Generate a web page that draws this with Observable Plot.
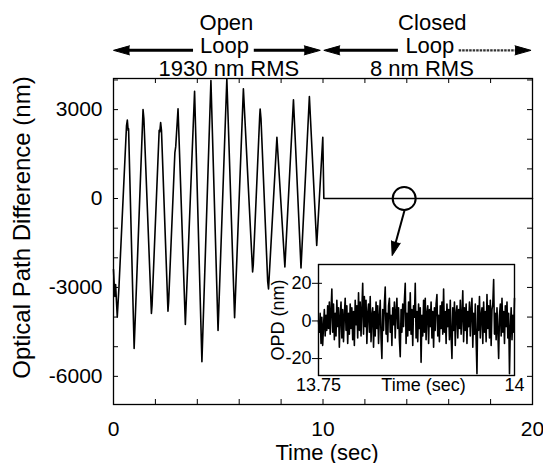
<!DOCTYPE html>
<html>
<head>
<meta charset="utf-8">
<script src="https://cdn.jsdelivr.net/npm/d3@7"></script>
<script src="https://cdn.jsdelivr.net/npm/@observablehq/plot@0.6"></script>
<style>
  body { margin: 0; background: #fff; }
  #wrap { position: relative; width: 543px; height: 463px; }
  #wrap svg { position: absolute; left: 0; top: 0; }
</style>
</head>
<body>
<div id="wrap"></div>
<script>
// ---------- data ----------
const openTime = [0.00, 0.06, 0.10, 0.18, 0.26, 0.62, 0.66, 0.70, 0.72, 0.985,
  1.41, 1.45, 1.81, 1.84, 2.18, 2.21, 2.25, 2.29, 2.60, 2.63,
  2.93, 2.97, 3.08, 3.43, 3.87, 4.22, 4.65, 4.99, 5.41, 5.78,
  6.20, 6.64, 6.67, 6.98, 7.00, 7.04, 7.36, 7.40, 7.80, 8.18,
  8.59, 8.95, 9.35, 9.70, 9.99];
const openOPD = [-2400, -3300, -2900, -4000, -3000, 2450, 2650, 2300, 2350, -5060,
  3000, 2700, -3880, -3600, 2300, 2250, 2560, 2300, -3800, -3500,
  1550, 1750, 3030, -4250, 3620, -5510, 3980, -4450, 4040, -4020,
  3700, -2480, -2250, 2800, 3020, 2700, -2800, -3050, 2070, -2310,
  3330, -2340, 3440, -1580, 2070];
const closedTime = [10.04, 20];
const closedOPD = [0, 0];

// inset: closed-loop OPD (nm), 13.75 s to 14 s
const insetStart = 13.75, insetEnd = 14;
const insetOPD = [
  0, -6, 4, -12, 2, -13, -3, 6, -8, 3,
  -5, 8, -4, 10, -7, 5, 17, -6, 9, -10,
  4, -8, 11, -3, 7, -14, 2, 10, -9, 6,
  -11, 3, 12, -5, 8, -12, 4, -7, 9, -4,
  7, -10, 5, -13, 11, -2, 8, -9, 15, -5,
  10, -8, 6, 20, -7, 13, -3, 11, -12, 4,
  9, -6, 13, -11, 3, 7, -14, 5, -8, 10,
  -4, 8, -12, 2, 11, -9, -20, 6, -5, 9,
  18, -7, 4, -11, 8, 12, -6, 3, -13, 7,
  -2, 10, -9, 5, 12, -4, 7, -10, -19, 6,
  -6, 9, -3, 11, 20, -12, 4, -8, 10, -5,
  15, -7, 6, -13, 8, 2, 20, -9, 5, -11,
  9, -4, 7, -22, 3, -8, 11, -6, 12, -10,
  4, 8, -12, 6, -3, 10, -9, 5, -14, 7,
  -5, 9, 14, -8, 3, -11, 8, -4, 10, -7,
  17, -6, 5, -12, 9, -3, 6, -10, 11, -8,
  -20, 7, -5, 10, -13, 4, 8, -9, 6, -4,
  11, -7, 3, 16, -11, 7, -5, 9, -12, 5,
  -3, 10, -8, 6, 12, -14, 4, -7, 9, -10,
  -28, 8, -5, 13, -9, 3, 7, -12, 10, -6,
  5, -11, 14, -4, 8, -9, 11, -13, 6, 9,
  22, -7, 4, -10, 7, -5, -20, 3, 9, -8,
  12, -6, 5, -12, 8, -3, 10, -9, 4, -28,
  -4, 7, -10, 3, -6, 12];

// ticks
const xTickLabels = [0, 10, 20];
const xMinorTicks = [0, 2, 4, 6, 8, 10, 12, 14, 16, 18, 20];
const yTickLabels = [-6000, -3000, 0, 3000];
const yMinorTicks = [-6000, -5000, -4000, -3000, -2000, -1000, 0, 1000, 2000, 3000, 4000];
const insetYTickLabels = [-20, 0, 20];
const insetXTickLabels = [13.75, 14];

// annotations
const annoLines = [
  {text: "Open", x: 5.39, row: 0},
  {text: "Loop", x: 5.30, row: 1},
  {text: "1930 nm RMS", x: 5.51, row: 2},
  {text: "Closed", x: 15.22, row: 0},
  {text: "Loop", x: 15.10, row: 1},
  {text: "8 nm RMS", x: 14.72, row: 2}
];
const annoY = 5000;
const arrowSegs = [
  {tip: 0, tail: 3.82, dir: "left", faint: false},
  {tip: 9.87, tail: 6.72, dir: "right", faint: false},
  {tip: 10.04, tail: 13.6, dir: "left", faint: false},
  {tip: 19.93, tail: 16.5, dir: "right", faint: true}
];
const zoomCircle = [{t: 13.875, opd: 0}];
const zoomArrow = [{t1: 13.89, v1: -405, t2: 13.30, v2: -1923}];

// ---------- layout ----------
const W = 543, H = 463;
const M = {left: 113, right: 11, top: 78, bottom: 59};
const frameW = W - M.left - M.right;
const frameH = H - M.top - M.bottom;
const xDomain = [0, 20], yDomain = [-6950, 4050];
const font = "'Liberation Sans', Arial, Helvetica, sans-serif";

const px = t => M.left + (t - xDomain[0]) / (xDomain[1] - xDomain[0]) * frameW;
const py = v => M.top + (yDomain[1] - v) / (yDomain[1] - yDomain[0]) * frameH;
const za = zoomArrow[0];
const zoomRotate = Math.atan2(px(za.t2) - px(za.t1), -(py(za.v2) - py(za.v1))) * 180 / Math.PI;

const trace = openTime.map((t, i) => ({t, v: openOPD[i]}))
  .concat(closedTime.map((t, i) => ({t, v: closedOPD[i]})));

const rowDy = [-49, -26, -3];
const leftSegs = arrowSegs.filter(d => d.dir === "left");
const rightSegs = arrowSegs.filter(d => d.dir === "right");

const main = Plot.plot({
  width: W, height: H,
  marginLeft: M.left, marginRight: M.right, marginTop: M.top, marginBottom: M.bottom,
  style: {fontFamily: font, fontSize: "21px", background: "white", color: "black", overflow: "visible"},
  x: {domain: xDomain},
  y: {domain: yDomain},
  marks: [
    Plot.frame({stroke: "black", strokeWidth: 1.3}),
    Plot.tickX(xMinorTicks, {x: d => d, insetTop: frameH - 5, stroke: "black"}),
    Plot.tickX(xMinorTicks, {x: d => d, insetBottom: frameH - 5, stroke: "black"}),
    Plot.tickY(yMinorTicks, {y: d => d, insetRight: frameW - 5, stroke: "black"}),
    Plot.tickY(yMinorTicks, {y: d => d, insetLeft: frameW - 5, stroke: "black"}),
    Plot.line(trace, {x: "t", y: "v", stroke: "black", strokeWidth: 1.6}),
    Plot.dot(zoomCircle, {x: "t", y: "opd", r: 11.5, stroke: "black", strokeWidth: 2, fill: "none"}),
    Plot.link(zoomArrow, {x1: "t1", y1: "v1", x2: d => d.t1 + 0.8 * (d.t2 - d.t1), y2: d => d.v1 + 0.8 * (d.v2 - d.v1), stroke: "black", strokeWidth: 2}),
    Plot.vector(zoomArrow, {x: "t2", y: "v2", anchor: "end", shape: "spike", length: 14, r: 4.5, rotate: zoomRotate, fill: "black", stroke: "black", strokeWidth: 1}),
    // open / closed arrows
    Plot.ruleY(leftSegs, {y: () => annoY, x1: "tip", x2: "tail", insetLeft: 8, stroke: "black", strokeWidth: 3}),
    Plot.ruleY(rightSegs.filter(d => !d.faint), {y: () => annoY, x1: "tail", x2: "tip", insetRight: 8, stroke: "black", strokeWidth: 3}),
    Plot.ruleY(rightSegs.filter(d => d.faint), {y: () => annoY, x1: "tail", x2: "tip", insetRight: 8, stroke: "#333", strokeWidth: 2.2, strokeDasharray: "2.5 1"}),
    Plot.vector(leftSegs, {x: "tip", y: () => annoY, anchor: "end", shape: "spike", length: 16, r: 4.5, rotate: -90, fill: "black", stroke: "black", strokeWidth: 1}),
    Plot.vector(rightSegs, {x: "tip", y: () => annoY, anchor: "end", shape: "spike", length: 16, r: 4.5, rotate: 90, fill: "black", stroke: "black", strokeWidth: 1}),
    ...[0, 1, 2].map(r => Plot.text(annoLines.filter(d => d.row === r), {
      x: "x", text: "text", frameAnchor: "top", textAnchor: "middle", lineAnchor: "bottom", dy: rowDy[r], fontSize: 22, fill: "black"
    })),
    // axes
    Plot.axisX({ticks: xTickLabels, tickSize: 0, tickPadding: 17, tickFormat: d => String(d), fontSize: 21, label: null}),
    Plot.axisY({ticks: yTickLabels, tickSize: 0, tickPadding: 11, tickFormat: d => String(d), fontSize: 21, label: null}),
    Plot.text(["Time (sec)"], {text: d => d, frameAnchor: "bottom", textAnchor: "middle", lineAnchor: "bottom", dy: 55, dx: 4, fontSize: 22, fill: "black"}),
    Plot.text(["Optical Path Difference (nm)"], {text: d => d, frameAnchor: "left", textAnchor: "middle", lineAnchor: "middle", rotate: -90, dx: -91, dy: -14, fontSize: 24, fill: "black"})
  ]
});

// ---------- inset ----------
const IM = {left: 318, right: 29, top: 264, bottom: 88};
const insetW = W - IM.left - IM.right;
const insetData = insetOPD.map((v, i) => ({
  t: insetStart + i * (insetEnd - insetStart) / (insetOPD.length - 1), v
}));

const inset = Plot.plot({
  width: W, height: H,
  marginLeft: IM.left, marginRight: IM.right, marginTop: IM.top, marginBottom: IM.bottom,
  style: {fontFamily: font, fontSize: "18px", background: "transparent", color: "black", overflow: "visible"},
  x: {domain: [insetStart, insetEnd]},
  y: {domain: [-29, 30]},
  marks: [
    Plot.frame({fill: "white", stroke: "black", strokeWidth: 1.2}),
    Plot.line(insetData, {x: "t", y: "v", stroke: "black", strokeWidth: 1.6}),
    Plot.frame({stroke: "black", strokeWidth: 1.2}),
    Plot.tickY(insetYTickLabels, {y: d => d, insetRight: insetW - 4, stroke: "black"}),
    Plot.axisY({ticks: insetYTickLabels, tickSize: 6, tickPadding: 1, tickFormat: d => String(d), fontSize: 18, label: null}),
    Plot.axisX({ticks: insetXTickLabels, tickSize: 0, tickPadding: 3, tickFormat: d => String(d), fontSize: 18, label: null}),
    Plot.text(["Time (sec)"], {text: d => d, frameAnchor: "bottom", textAnchor: "middle", lineAnchor: "top", dy: 3, dx: 7, fontSize: 18, fill: "black"}),
    Plot.text(["OPD (nm)"], {text: d => d, frameAnchor: "left", textAnchor: "middle", lineAnchor: "middle", rotate: -90, dx: -40, fontSize: 18, fill: "black"})
  ]
});

const wrap = document.getElementById("wrap");
wrap.appendChild(main);
wrap.appendChild(inset);
</script>
</body>
</html>
